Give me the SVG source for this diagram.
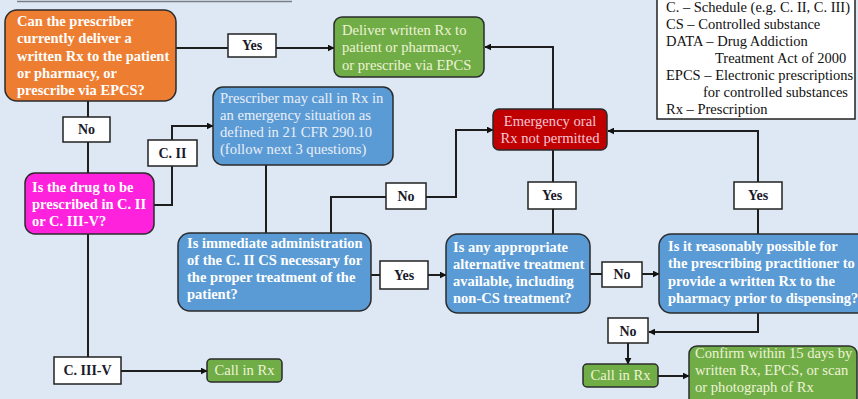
<svg xmlns="http://www.w3.org/2000/svg" width="858" height="399" viewBox="0 0 858 399">
  <defs>
    <marker id="arrow" viewBox="0 0 10 10" refX="9" refY="5" markerWidth="7" markerHeight="7" markerUnits="userSpaceOnUse" orient="auto">
      <path d="M0,0 L10,5 L0,10 z" fill="#111"/>
    </marker>
    <style>
      .node rect { stroke: #2b2b2b; stroke-width: 1.5; }
      .q text { font-family: "Liberation Serif", "Times New Roman", serif; font-size: 14.5px; font-weight: bold; fill: #ffffff; }
      .info text { font-family: "Liberation Serif", "Times New Roman", serif; font-size: 14.6px; }
      .orange { fill: #ed7d31; }
      .green { fill: #70ad47; }
      .blue { fill: #5b9bd5; }
      .red { fill: #c00000; }
      .magenta { fill: #ff22dd; }
      .tgreen { fill: #eef3d6; }
      .tblue { fill: #e9eff8; }
      .tred { fill: #f7c6d6; }
      .label rect { fill: #ffffff; stroke: #222; stroke-width: 1.5; }
      .label text { font-family: "Liberation Serif", "Times New Roman", serif; font-size: 14px; font-weight: bold; fill: #1a1a2a; text-anchor: middle; }
      .legend text { font-family: "Liberation Serif", "Times New Roman", serif; font-size: 14.5px; fill: #111; }
      #connectors path { fill: none; stroke: #1e1e1e; stroke-width: 2; }
    </style>
  </defs>

  <!-- page background -->
  <rect x="0" y="0" width="858" height="399" fill="#dde8f4"/>
  <!-- heading rule, top edge -->
  <line x1="17" y1="1.5" x2="292" y2="1.5" stroke="#7a7f86" stroke-width="1.5"/>

  <!-- connectors -->
  <g id="connectors">
    <path d="M176,48 H228"/>
    <path d="M276,48 H334" marker-end="url(#arrow)"/>
    <path d="M553,109 V47 H485" marker-end="url(#arrow)"/>
    <path d="M88,101 V118"/>
    <path d="M88,142 V173"/>
    <path d="M154,205 H172 V166"/>
    <path d="M172,140 V126 H213" marker-end="url(#arrow)"/>
    <path d="M88,234 V357"/>
    <path d="M121,371 H207" marker-end="url(#arrow)"/>
    <path d="M266,165 V233"/>
    <path d="M331,233 V197 H386"/>
    <path d="M426,197 H456 V130 H493" marker-end="url(#arrow)"/>
    <path d="M553,150 V182"/>
    <path d="M553,209 V234"/>
    <path d="M371,275 H380"/>
    <path d="M428,275 H446" marker-end="url(#arrow)"/>
    <path d="M590,274 H602"/>
    <path d="M642,274 H659" marker-end="url(#arrow)"/>
    <path d="M758,234 V209"/>
    <path d="M758,182 V131 H608" marker-end="url(#arrow)"/>
    <path d="M758,313 V332 H649" marker-end="url(#arrow)"/>
    <path d="M628,343 V364" marker-end="url(#arrow)"/>
    <path d="M658,376 H689" marker-end="url(#arrow)"/>
  </g>

  <!-- Q1: can the prescriber deliver a written Rx -->
  <g id="q-deliver" class="node q">
    <rect class="orange" x="5" y="10" width="171" height="91" rx="12"/>
    <text x="17" y="26">Can the prescriber</text>
    <text x="17" y="43">currently deliver a</text>
    <text x="17" y="61">written Rx to the patient</text>
    <text x="17" y="78">or pharmacy, or</text>
    <text x="17" y="95">prescribe via EPCS?</text>
  </g>

  <!-- outcome: deliver written Rx -->
  <g id="deliver-rx" class="node info">
    <rect class="green" x="334" y="17" width="150" height="60" rx="8"/>
    <text class="tgreen" x="342" y="35">Deliver written Rx to</text>
    <text class="tgreen" x="342" y="52">patient or pharmacy,</text>
    <text class="tgreen" x="342" y="70">or prescribe via EPCS</text>
  </g>

  <!-- legend -->
  <g id="legend" class="legend">
    <rect x="657" y="-3" width="198" height="122" fill="#ffffff" stroke="#222" stroke-width="1.5"/>
    <text x="666" y="12">C. – Schedule (e.g. C. II, C. III)</text>
    <text x="666" y="29">CS – Controlled substance</text>
    <text x="666" y="46">DATA – Drug Addiction</text>
    <text x="715" y="63">Treatment Act of 2000</text>
    <text x="666" y="80">EPCS – Electronic prescriptions</text>
    <text x="703" y="97">for controlled substances</text>
    <text x="666" y="114">Rx – Prescription</text>
  </g>

  <!-- Q2: schedule -->
  <g id="q-schedule" class="node q">
    <rect class="magenta" x="25" y="173" width="129" height="61" rx="10"/>
    <text x="32" y="192">Is the drug to be</text>
    <text x="32" y="209">prescribed in C. II</text>
    <text x="32" y="226">or C. III-V?</text>
  </g>

  <!-- emergency call-in note -->
  <g id="emergency-note" class="node info">
    <rect class="blue" x="213" y="87" width="180" height="78" rx="10"/>
    <text class="tblue" x="220" y="103">Prescriber may call in Rx in</text>
    <text class="tblue" x="220" y="120">an emergency situation as</text>
    <text class="tblue" x="220" y="137">defined in 21 CFR 290.10</text>
    <text class="tblue" x="220" y="154">(follow next 3 questions)</text>
  </g>

  <!-- Q3: immediate administration -->
  <g id="q-immediate" class="node q">
    <rect class="blue" x="178" y="233" width="193" height="78" rx="12"/>
    <text x="187" y="248">Is immediate administration</text>
    <text x="187" y="265">of the C. II CS necessary for</text>
    <text x="187" y="282">the proper treatment of the</text>
    <text x="187" y="299">patient?</text>
  </g>

  <!-- Q4: alternative treatment -->
  <g id="q-alternative" class="node q">
    <rect class="blue" x="446" y="234" width="144" height="79" rx="12"/>
    <text x="453" y="252">Is any appropriate</text>
    <text x="453" y="269">alternative treatment</text>
    <text x="453" y="286">available, including</text>
    <text x="453" y="303">non-CS treatment?</text>
  </g>

  <!-- Q5: written Rx before dispensing -->
  <g id="q-written" class="node q">
    <rect class="blue" x="659" y="234" width="210" height="79" rx="12"/>
    <text x="668" y="251">Is it reasonably possible for</text>
    <text x="668" y="268">the prescribing practitioner to</text>
    <text x="668" y="286">provide a written Rx to the</text>
    <text x="668" y="303">pharmacy prior to dispensing?</text>
  </g>

  <!-- outcome: emergency oral Rx not permitted -->
  <g id="not-permitted" class="node info">
    <rect class="red" x="493" y="109" width="114" height="41" rx="6"/>
    <text class="tred" x="550" y="126" text-anchor="middle">Emergency oral</text>
    <text class="tred" x="550" y="143" text-anchor="middle">Rx not permitted</text>
  </g>

  <!-- outcome: call in Rx (C. III-V) -->
  <g id="call-in-c3" class="node info">
    <rect class="green" x="207" y="359" width="75" height="23" rx="4"/>
    <text class="tgreen" x="244.5" y="375" text-anchor="middle">Call in Rx</text>
  </g>

  <!-- outcome: call in Rx (emergency C. II) -->
  <g id="call-in-c2" class="node info">
    <rect class="green" x="583" y="364" width="75" height="23" rx="4"/>
    <text class="tgreen" x="620.5" y="380" text-anchor="middle">Call in Rx</text>
  </g>

  <!-- outcome: confirm within 15 days -->
  <g id="confirm" class="node info">
    <rect class="green" x="689" y="346" width="168" height="60" rx="8"/>
    <text class="tgreen" x="695" y="358">Confirm within 15 days by</text>
    <text class="tgreen" x="695" y="375">written Rx, EPCS, or scan</text>
    <text class="tgreen" x="695" y="392">or photograph of Rx</text>
  </g>

  <!-- branch labels -->
  <g id="label-yes-1" class="label"><rect x="228" y="34" width="48" height="23"/><text x="252" y="50">Yes</text></g>
  <g id="label-no-1" class="label"><rect x="63" y="117" width="47" height="25"/><text x="86.5" y="134">No</text></g>
  <g id="label-c2" class="label"><rect x="148" y="140" width="49" height="26"/><text x="172.5" y="158">C. II</text></g>
  <g id="label-c3" class="label"><rect x="54" y="357" width="67" height="27"/><text x="87.5" y="375">C. III-V</text></g>
  <g id="label-no-2" class="label"><rect x="386" y="183" width="40" height="26"/><text x="406" y="201">No</text></g>
  <g id="label-yes-2" class="label"><rect x="528" y="182" width="48" height="27"/><text x="552" y="200">Yes</text></g>
  <g id="label-yes-3" class="label"><rect x="734" y="182" width="48" height="27"/><text x="758" y="200">Yes</text></g>
  <g id="label-yes-4" class="label"><rect x="380" y="261" width="48" height="28"/><text x="404" y="280">Yes</text></g>
  <g id="label-no-3" class="label"><rect x="602" y="262" width="40" height="25"/><text x="622" y="279">No</text></g>
  <g id="label-no-4" class="label"><rect x="608" y="318" width="40" height="25"/><text x="628" y="336">No</text></g>
</svg>
